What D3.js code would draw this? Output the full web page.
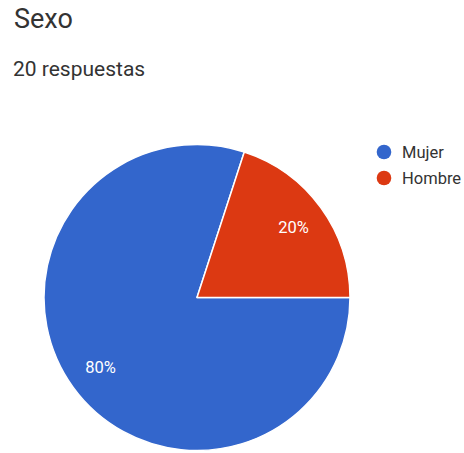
<!DOCTYPE html>
<html>
<head>
<meta charset="utf-8">
<script src="https://cdn.jsdelivr.net/npm/d3@7"></script>
<style>
  html, body { margin: 0; padding: 0; background: #fff; }
  svg { display: block; font-family: Roboto, "Noto Sans", Arial, sans-serif; }
</style>
</head>
<body>
<svg id="chart" width="464" height="453"></svg>
<script>
const title = "Sexo";
const subtitle = "20 respuestas";
const categories = ["Mujer", "Hombre"];
const values = [16, 4];
const colors = ["#3366cc", "#dc3912"];

const svg = d3.select("#chart");

svg.append("text")
  .attr("x", 14).attr("y", 28)
  .attr("font-size", 27)
  .attr("fill", "#333")
  .text(title);

svg.append("text")
  .attr("x", 13).attr("y", 76)
  .attr("font-size", 21)
  .attr("fill", "#333")
  .text(subtitle);

const cx = 197, cy = 297.5, r = 153;
const total = d3.sum(values);
const data = categories.map((c, i) => ({ name: c, value: values[i], color: colors[i] }));

const pie = d3.pie().value(d => d.value).sort(null)
  .startAngle(Math.PI / 2).endAngle(Math.PI / 2 + 2 * Math.PI);
const arcs = pie(data);
const arc = d3.arc().innerRadius(0).outerRadius(r);
const labelArc = d3.arc().innerRadius(r * 0.78).outerRadius(r * 0.78);

const g = svg.append("g").attr("transform", `translate(${cx},${cy})`);
g.selectAll("path").data(arcs).join("path")
  .attr("d", arc)
  .attr("fill", d => d.data.color)
  .attr("stroke", "#fff")
  .attr("stroke-width", 1.5)
  .attr("stroke-linejoin", "round");

const fmt = d3.format(".0%");
g.selectAll("text.lbl").data(arcs).join("text")
  .attr("class", "lbl")
  .attr("transform", d => `translate(${labelArc.centroid(d)})`)
  .attr("text-anchor", "middle")
  .attr("dominant-baseline", "central")
  .attr("font-size", 16.5)
  .attr("fill", "#fff")
  .text(d => fmt(d.data.value / total));

const legend = svg.append("g").attr("transform", "translate(384,152)");
const items = legend.selectAll("g").data(data).join("g")
  .attr("transform", (d, i) => `translate(0,${i * 26})`);
items.append("circle").attr("r", 7.3).attr("fill", d => d.color);
items.append("text")
  .attr("x", 18).attr("y", 0)
  .attr("dominant-baseline", "central")
  .attr("font-size", 16.5)
  .attr("fill", "#333")
  .text(d => d.name);
</script>
</body>
</html>
